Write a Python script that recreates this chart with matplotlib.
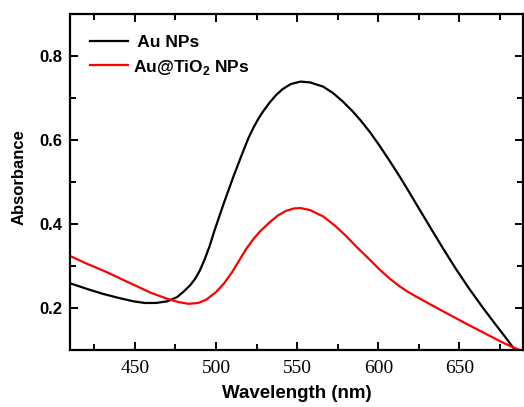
"""UV-vis absorbance of Au NPs vs Au@TiO2 NPs."""
import matplotlib
matplotlib.use("Agg")
import matplotlib.pyplot as plt
from matplotlib.ticker import MultipleLocator

# Au NPs (black)
au_wl = [410, 420, 430, 440, 449, 456, 463, 470, 476, 480, 484, 487, 490, 493,
         496, 499, 502, 505, 508, 511, 514, 517, 520, 523, 526, 529, 533, 537,
         541, 546, 552, 558, 566, 572, 578, 584, 589, 595, 601, 607, 613, 619,
         625, 632, 640, 648, 656, 664, 672, 678, 684, 689]
au_abs = [0.259, 0.246, 0.234, 0.224, 0.216, 0.212, 0.212, 0.216, 0.226, 0.239,
          0.254, 0.269, 0.289, 0.316, 0.347, 0.384, 0.418, 0.452, 0.484, 0.516,
          0.546, 0.576, 0.605, 0.629, 0.650, 0.668, 0.689, 0.707, 0.721, 0.733,
          0.739, 0.737, 0.727, 0.712, 0.692, 0.669, 0.647, 0.618, 0.585, 0.550,
          0.514, 0.476, 0.437, 0.392, 0.341, 0.292, 0.246, 0.203, 0.162, 0.132,
          0.101, 0.075]

# Au@TiO2 NPs (red)
ti_wl = [410, 420, 430, 440, 450, 460, 470, 477, 483, 489, 494, 500, 505, 510,
         515, 519, 523, 527, 533, 538, 543, 548, 552, 558, 566, 573, 580, 587,
         595, 601, 607, 613, 618, 623, 630, 640, 654, 664, 675, 681, 687, 690]
ti_abs = [0.324, 0.306, 0.290, 0.272, 0.254, 0.236, 0.222, 0.214, 0.210, 0.212,
          0.220, 0.238, 0.259, 0.286, 0.318, 0.343, 0.364, 0.382, 0.404, 0.420,
          0.431, 0.437, 0.438, 0.433, 0.418, 0.397, 0.372, 0.344, 0.314, 0.291,
          0.270, 0.252, 0.239, 0.228, 0.213, 0.192, 0.163, 0.143, 0.121, 0.110,
          0.100, 0.095]

SANS = ["Liberation Sans", "DejaVu Sans"]
SERIF = ["Liberation Serif", "DejaVu Serif"]


def main():
    plt.rcParams["mathtext.fontset"] = "custom"
    plt.rcParams["mathtext.bf"] = "Liberation Sans:bold"

    fig = plt.figure(figsize=(5.24, 4.07), dpi=100)
    ax = fig.add_axes([0.1336, 0.140, 0.864, 0.8257])

    ax.plot(au_wl, au_abs, color="black", lw=1.6, label=" Au NPs")
    ax.plot(ti_wl, ti_abs, color="#ff0000", lw=1.6, label=r"Au@TiO$_\mathbf{2}$ NPs")

    ax.set_xlim(410, 689)
    ax.set_ylim(0.1, 0.9)
    ax.xaxis.set_major_locator(MultipleLocator(50))
    ax.xaxis.set_minor_locator(MultipleLocator(25))
    ax.yaxis.set_major_locator(MultipleLocator(0.2))
    ax.yaxis.set_minor_locator(MultipleLocator(0.1))

    for s in ax.spines.values():
        s.set_linewidth(1.6)
    ax.tick_params(which="both", direction="in", top=True, right=True, width=1.4)
    ax.tick_params(which="major", length=6)
    ax.tick_params(which="minor", length=4)
    ax.tick_params(axis="x", pad=7)
    ax.tick_params(axis="y", pad=5.5)

    for lab in ax.get_xticklabels():
        lab.set_family(SERIF); lab.set_fontsize(14)
    for lab in ax.get_yticklabels():
        lab.set_family(SANS); lab.set_fontsize(12); lab.set_fontweight("bold")

    ax.set_xlabel("Wavelength (nm)", fontsize=13.5, fontweight="bold", family=SANS, labelpad=6)
    ax.set_ylabel("Absorbance", fontsize=12, fontweight="bold", family=SANS)
    ax.yaxis.set_label_coords(-0.097, 0.516)

    ax.legend(loc="upper left", bbox_to_anchor=(0.044, 0.937), frameon=False,
              handlelength=2.2, handletextpad=0.3, labelspacing=0.42,
              borderaxespad=0, borderpad=0,
              prop={"family": SANS, "weight": "bold", "size": 12.5})

    fig.savefig("out.png", dpi=100)


if __name__ == "__main__":
    main()
